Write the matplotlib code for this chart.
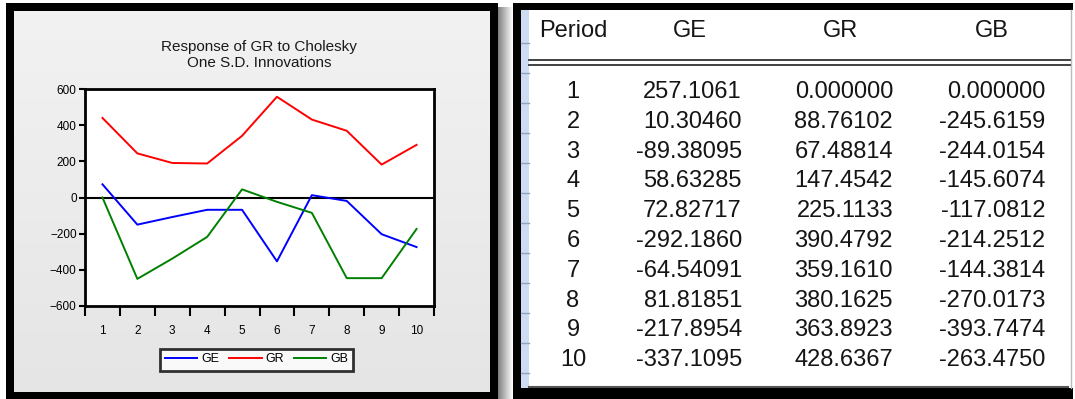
import numpy as np
import matplotlib
matplotlib.use('Agg')
from matplotlib import pyplot as plt
from matplotlib.patches import Rectangle

plt.rcParams['font.family'] = ['Liberation Sans', 'DejaVu Sans']

# impulse responses drawn in the chart (read per period)
periods = [1, 2, 3, 4, 5, 6, 7, 8, 9, 10]
resp_ge = [73, -150, -108, -68, -68, -353, 13, -19, -203, -274]
resp_gr = [440, 244, 191, 188, 341, 557, 431, 369, 182, 291]
resp_gb = [0, -450, -338, -218, 45, -24, -85, -446, -446, -174]

# variance table shown at the right
tab_ge = [257.1061, 10.30460, -89.38095, 58.63285, 72.82717,
          -292.1860, -64.54091, 81.81851, -217.8954, -337.1095]
tab_gr = [0.000000, 88.76102, 67.48814, 147.4542, 225.1133,
          390.4792, 359.1610, 380.1625, 363.8923, 428.6367]
tab_gb = [0.000000, -245.6159, -244.0154, -145.6074, -117.0812,
          -214.2512, -144.3814, -270.0173, -393.7474, -263.4750]
headers = ['Period', 'GE', 'GR', 'GB']


def fmt7(v):
    # EViews style: 7 significant digits
    n = len(str(int(abs(v))))
    return '%.*f' % (7 - n, v)


W, H = 1075, 399
fig = plt.figure(figsize=(W / 100, H / 100), dpi=100)
fig.patch.set_facecolor('white')

bg = fig.add_axes([0, 0, 1, 1])
bg.set_xlim(0, W)
bg.set_ylim(H, 0)
bg.axis('off')

# left panel: black frame with a grey gradient inside
bg.add_patch(Rectangle((6, 3), 492, 396, color='black', lw=0))
grad = np.linspace(0.945, 0.895, 64).reshape(-1, 1)
bg.imshow(grad, cmap='gray', vmin=0, vmax=1, aspect='auto',
          extent=(14, 490, 392, 11), zorder=2)
# drop shadow between panels
shade = np.linspace(0.5, 1.0, 32).reshape(1, -1)
bg.imshow(shade, cmap='gray', vmin=0, vmax=1, aspect='auto',
          extent=(498, 513, 399, 7), zorder=2)

# right panel: table window
bg.add_patch(Rectangle((513, 3), 560, 396, color='black', lw=0, zorder=1))
bg.add_patch(Rectangle((521, 10), 554, 378, color='white', lw=0, zorder=2))
bg.add_patch(Rectangle((521, 10), 8, 378, color='#cddcf0', lw=0, zorder=3))
for yy in [43] + list(range(73, 388, 30)):
    bg.plot([521, 529], [yy, yy], color='#8ea6c6', lw=1, zorder=4)
bg.plot([1071, 1071], [10, 388], color='#bbbbbb', lw=1, zorder=4)
bg.plot([529, 1068], [386.5, 386.5], color='#555555', lw=1.5, zorder=4)
for yy in [59.5, 64.5]:
    bg.plot([529, 1070], [yy, yy], color='#333333', lw=1.3, zorder=4)

tfont = dict(fontsize=17, color='#151515', va='center', zorder=5)
hx = [573, 690, 841, 992]
for x, h in zip(hx, headers):
    bg.text(x, 31, h, ha='center', **tfont)
for i, p in enumerate(periods):
    y = 92 + i * 29.8
    bg.text(573, y, str(p), ha='center', **tfont)
    bg.text(742, y, fmt7(tab_ge[i]), ha='right', **tfont)
    bg.text(893, y, fmt7(tab_gr[i]), ha='right', **tfont)
    bg.text(1045, y, fmt7(tab_gb[i]), ha='right', **tfont)

# chart title
bg.text(259, 55, 'Response of GR to Cholesky\nOne S.D. Innovations',
        ha='center', va='center', fontsize=11, linespacing=1.1,
        color='#1a1a1a', zorder=5)

# impulse response chart
ax = fig.add_axes([85 / W, 1 - 306 / H, (434 - 85) / W, (306 - 89) / H])
ax.set_facecolor('white')
ax.axhline(0, color='black', lw=1.5, zorder=1)
ax.plot(periods, resp_ge, color='#0000ff', lw=1.4, label='GE', zorder=3)
ax.plot(periods, resp_gr, color='#ff0000', lw=1.4, label='GR', zorder=3)
ax.plot(periods, resp_gb, color='#008000', lw=1.4, label='GB', zorder=3)
ax.set_xlim(0.5, 10.5)
ax.set_ylim(-600, 600)
ax.set_yticks([-600, -400, -200, 0, 200, 400, 600])
ax.set_xticks(np.arange(0.5, 11, 1))
ax.set_xticklabels([])
ax.set_xticks(periods, minor=True)
ax.set_xticklabels([str(p) for p in periods], minor=True)
ax.tick_params(axis='y', direction='out', length=4, width=1.5,
               labelsize=8.5, pad=2, colors='black')
ax.tick_params(axis='x', which='major', direction='out', length=7, width=1.5)
ax.tick_params(axis='x', which='minor', length=0, labelsize=8.5, pad=14)
for s in ax.spines.values():
    s.set_linewidth(2)

leg = fig.legend(handles=ax.get_lines()[1:], loc='center',
                 bbox_to_anchor=(256.5 / W, 1 - 359.5 / H), ncol=3,
                 fontsize=9, handlelength=2.6, handletextpad=0.3,
                 columnspacing=0.8, fancybox=False, borderpad=0.4)
leg.get_frame().set_edgecolor('black')
leg.get_frame().set_linewidth(2)
leg.get_frame().set_facecolor('white')

fig.savefig('out.png', dpi=100)
